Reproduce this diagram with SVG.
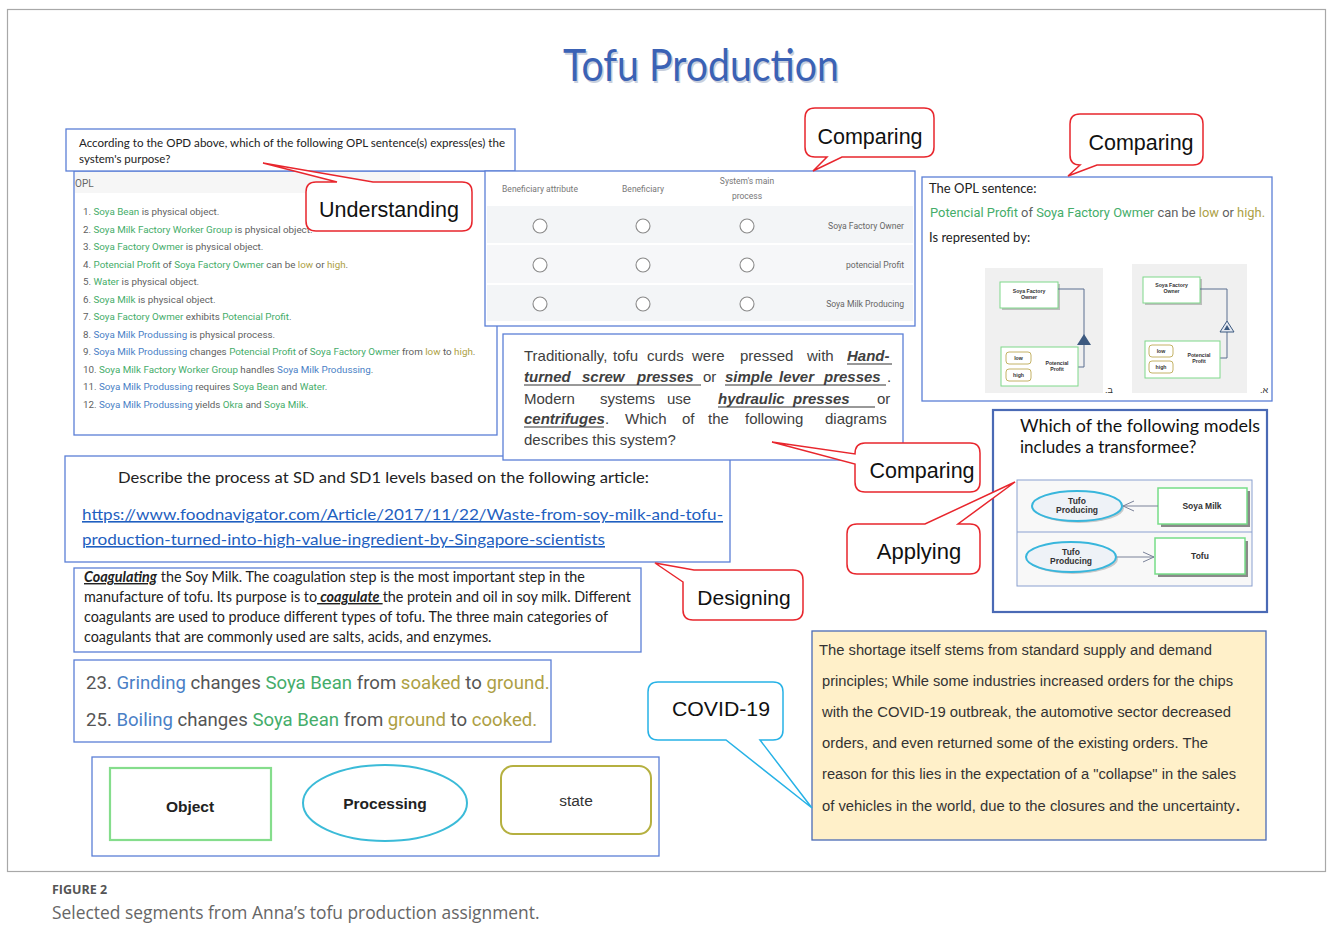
<svg xmlns="http://www.w3.org/2000/svg" width="1333" height="947" viewBox="0 0 1333 947">
<defs>
<style>
.box{fill:#fff;stroke:#5b7fd6;stroke-width:1.3}
.red{fill:#fff;stroke:#e8262d;stroke-width:1.5}
.cyan{fill:#fff;stroke:#27b2e6;stroke-width:1.5}
.ct{font-family:"Liberation Sans",Arial,sans-serif;fill:#111;text-anchor:middle}
.cal{font-family:Lato,"Liberation Sans",sans-serif}
.rob{font-family:Roboto,"Liberation Sans",sans-serif}
.lib{font-family:"Liberation Sans",Arial,sans-serif}
.t{fill:#5f5f5f}.g{fill:#45ad6a}.b{fill:#4a7fc6}.o{fill:#ad9f45}
.biu{font-weight:bold;font-style:italic}
.ul{stroke:#333;stroke-width:1}
.obj{fill:#fff;stroke:#7fd88a;stroke-width:1}
.st{fill:#fff;stroke:#b5a040;stroke-width:0.8}
.tiny{font-family:"Liberation Sans",Arial,sans-serif;font-weight:bold;font-size:5.2px;fill:#333;text-anchor:middle}
.circ{fill:#fff;stroke:#8a8a8a;stroke-width:1.1}
.th{font-family:Roboto,"Liberation Sans",sans-serif;font-size:8.5px;fill:#777;text-anchor:middle}
.tr{font-family:Roboto,"Liberation Sans",sans-serif;font-size:8.6px;fill:#666;text-anchor:end}
.ys{font-family:"Liberation Sans",Arial,sans-serif;font-size:14px;fill:#333}
.link{fill:#1f5fc0;text-decoration:underline}
</style>
<marker id="open" markerWidth="14" markerHeight="12" refX="12" refY="6" orient="auto" markerUnits="userSpaceOnUse">
<path d="M1,1 L12,6 L1,11" fill="none" stroke="#7a8299" stroke-width="1"/>
</marker>
</defs>
<rect width="1333" height="947" fill="#fff"/>
<rect x="7.5" y="9.5" width="1318" height="862" fill="none" stroke="#a8a8a8" stroke-width="1.2"/>

<g id="title">
<text x="702.5" y="82.5" text-anchor="middle" font-family="Lato,'Liberation Sans',sans-serif" font-size="45" fill="#c9cfdc" textLength="276" lengthAdjust="spacingAndGlyphs">Tofu Production</text>
<text x="701" y="81" text-anchor="middle" font-family="Lato,'Liberation Sans',sans-serif" font-size="45" fill="#3b62b5" textLength="276" lengthAdjust="spacingAndGlyphs">Tofu Production</text>
</g>

<g id="opl-list">
<rect class="box" x="74" y="171" width="423" height="264"/>
<rect x="75" y="172" width="345" height="21" fill="#f6f6f6"/>
<text x="75" y="187" class="rob" font-size="10" fill="#666">OPL</text>
<g class="rob t" font-size="9.8">
<text x="83" y="215">1. <tspan class="g">Soya Bean</tspan> is physical object.</text>
<text x="83" y="232.5">2. <tspan class="g">Soya Milk Factory Worker Group</tspan> is physical object.</text>
<text x="83" y="250">3. <tspan class="g">Soya Factory Owmer</tspan> is physical object.</text>
<text x="83" y="267.5">4. <tspan class="g">Potencial Profit</tspan> of <tspan class="g">Soya Factory Owmer</tspan> can be <tspan class="o">low</tspan> or <tspan class="o">high</tspan>.</text>
<text x="83" y="285">5. <tspan class="g">Water</tspan> is physical object.</text>
<text x="83" y="302.5">6. <tspan class="g">Soya Milk</tspan> is physical object.</text>
<text x="83" y="320">7. <tspan class="g">Soya Factory Owmer</tspan> exhibits <tspan class="g">Potencial Profit</tspan>.</text>
<text x="83" y="337.5">8. <tspan class="b">Soya Milk Produssing</tspan> is physical process.</text>
<text x="83" y="355">9. <tspan class="b">Soya Milk Produssing</tspan> changes <tspan class="g">Potencial Profit</tspan> of <tspan class="g">Soya Factory Owmer</tspan> from <tspan class="o">low</tspan> to <tspan class="o">high</tspan>.</text>
<text x="83" y="372.5">10. <tspan class="g">Soya Milk Factory Worker Group</tspan> handles <tspan class="b">Soya Milk Produssing</tspan>.</text>
<text x="83" y="390">11. <tspan class="b">Soya Milk Produssing</tspan> requires <tspan class="g">Soya Bean</tspan> and <tspan class="g">Water</tspan>.</text>
<text x="83" y="407.5">12. <tspan class="b">Soya Milk Produssing</tspan> yields <tspan class="g">Okra</tspan> and <tspan class="g">Soya Milk</tspan>.</text>
</g>
</g>

<g id="question">
<rect class="box" x="66" y="129" width="449" height="42"/>
<text x="79" y="147" class="cal" font-size="11.5" fill="#222" textLength="426" lengthAdjust="spacingAndGlyphs">According to the OPD above, which of the following OPL sentence(s) express(es) the</text>
<text x="79" y="163" class="cal" font-size="11.5" fill="#222">system's purpose?</text>
</g>

<g id="table">
<rect class="box" x="485" y="171" width="430" height="155"/>
<rect x="487" y="206" width="426" height="37" fill="#f3f5f7"/>
<rect x="487" y="245" width="426" height="38" fill="#f6f7f9"/>
<rect x="487" y="285" width="426" height="36" fill="#f3f5f7"/>
<text class="th" x="540" y="192">Beneficiary attribute</text>
<text class="th" x="643" y="192">Beneficiary</text>
<text class="th" x="747" y="184">System's main</text>
<text class="th" x="747" y="199">process</text>
<circle class="circ" cx="540" cy="226" r="7"/><circle class="circ" cx="643" cy="226" r="7"/><circle class="circ" cx="747" cy="226" r="7"/>
<circle class="circ" cx="540" cy="265" r="7"/><circle class="circ" cx="643" cy="265" r="7"/><circle class="circ" cx="747" cy="265" r="7"/>
<circle class="circ" cx="540" cy="304" r="7"/><circle class="circ" cx="643" cy="304" r="7"/><circle class="circ" cx="747" cy="304" r="7"/>
<text class="tr" x="904" y="229">Soya Factory Owner</text>
<text class="tr" x="904" y="268">potencial Profit</text>
<text class="tr" x="904" y="307">Soya Milk Producing</text>
</g>

<g id="opl-sentence">
<rect class="box" x="922" y="177" width="350" height="224"/>
<text x="929" y="193" class="cal" font-size="13" fill="#222">The OPL sentence:</text>
<text x="930" y="217" class="rob t" font-size="12.9"><tspan class="g">Potencial Profit</tspan> of <tspan class="g">Soya Factory Owmer</tspan> can be <tspan class="o">low</tspan> or <tspan class="o">high.</tspan></text>
<text x="929" y="242" class="cal" font-size="13" fill="#222">Is represented by:</text>
<g id="opd-b">
<rect x="985" y="268" width="118" height="125" fill="#f0f0f0"/>
<rect x="1002" y="284" width="58" height="26" fill="#bdbdbd"/>
<rect class="obj" x="1000" y="282" width="58" height="26"/>
<text class="tiny" x="1029" y="293">Soya Factory</text><text class="tiny" x="1029" y="299">Owner</text>
<polyline points="1058,289 1084,289 1084,367 1078,367" fill="none" stroke="#5a6f90" stroke-width="1"/>
<polygon points="1084,334 1077,345 1091,345" fill="#3d5a80"/>
<rect class="obj" x="1001" y="347" width="77" height="39"/>
<rect class="st" x="1006" y="352" width="25" height="12" rx="3"/><text class="tiny" x="1018.5" y="360" font-weight="normal">low</text>
<rect class="st" x="1006" y="369" width="25" height="12" rx="3"/><text class="tiny" x="1018.5" y="377" font-weight="normal">high</text>
<text class="tiny" x="1057" y="365">Potencial</text><text class="tiny" x="1057" y="371">Profit</text>
<text x="1105" y="393" class="lib" font-size="9" fill="#333">.ב</text>
</g>
<g id="opd-a">
<rect x="1132" y="264" width="115" height="129" fill="#f0f0f0"/>
<rect x="1145" y="279" width="57" height="26" fill="#bdbdbd"/>
<rect class="obj" x="1143" y="277" width="57" height="26"/>
<text class="tiny" x="1171.5" y="287">Soya Factory</text><text class="tiny" x="1171.5" y="293">Owner</text>
<polyline points="1200,289 1227,289 1227,321" fill="none" stroke="#5a6f90" stroke-width="1"/>
<polyline points="1227,332 1227,358 1220,358" fill="none" stroke="#5a6f90" stroke-width="1"/>
<polygon points="1227,321 1220,332 1234,332" fill="#e4e8f0" stroke="#3d5a80" stroke-width="1"/>
<polygon points="1227,325 1224,330 1230,330" fill="#3d5a80"/>
<rect class="obj" x="1145" y="341" width="75" height="37"/>
<rect class="st" x="1149" y="345" width="24" height="12" rx="3"/><text class="tiny" x="1161" y="353" font-weight="normal">low</text>
<rect class="st" x="1149" y="361" width="24" height="12" rx="3"/><text class="tiny" x="1161" y="369" font-weight="normal">high</text>
<text class="tiny" x="1199" y="357">Potencial</text><text class="tiny" x="1199" y="363">Profit</text>
<text x="1260" y="393" class="lib" font-size="9" fill="#333">.א</text>
</g>
</g>

<g id="describe">
<rect class="box" x="65" y="456" width="665" height="106"/>
<text x="118" y="483" class="cal" font-size="16" fill="#222" textLength="531" lengthAdjust="spacingAndGlyphs">Describe the process at SD and SD1 levels based on the following article:</text>
<text x="82" y="520" class="cal link" font-size="16" textLength="641" lengthAdjust="spacingAndGlyphs">https://www.foodnavigator.com/Article/2017/11/22/Waste-from-soy-milk-and-tofu-</text>
<text x="82" y="545" class="cal link" font-size="16" textLength="523" lengthAdjust="spacingAndGlyphs">production-turned-into-high-value-ingredient-by-Singapore-scientists</text>
</g>

<g id="tofu-curds">
<rect class="box" x="503" y="334" width="400" height="126"/>
<g class="lib" font-size="15" fill="#404040">
<text y="361"><tspan x="524">Traditionally,</tspan><tspan x="613">tofu</tspan><tspan x="647">curds</tspan><tspan x="692">were</tspan><tspan x="740">pressed</tspan><tspan x="807">with</tspan><tspan x="847" class="biu">Hand-</tspan></text>
<text y="382"><tspan x="524" class="biu">turned</tspan><tspan x="582" class="biu">screw</tspan><tspan x="637" class="biu">presses</tspan><tspan x="703">or</tspan><tspan x="725" class="biu">simple</tspan><tspan x="779" class="biu">lever</tspan><tspan x="824" class="biu">presses</tspan><tspan x="887">.</tspan></text>
<text y="404"><tspan x="524">Modern</tspan><tspan x="600">systems</tspan><tspan x="667">use</tspan><tspan x="718" class="biu">hydraulic</tspan><tspan x="793" class="biu">presses</tspan><tspan x="877">or</tspan></text>
<text y="424"><tspan x="524" class="biu">centrifuges</tspan><tspan x="605">.</tspan><tspan x="625">Which</tspan><tspan x="682">of</tspan><tspan x="708">the</tspan><tspan x="745">following</tspan><tspan x="825">diagrams</tspan></text>
<text y="445" x="524">describes this system?</text>
</g>
<line class="ul" x1="847" y1="364" x2="892" y2="364"/>
<line class="ul" x1="524" y1="385" x2="701" y2="385"/>
<line class="ul" x1="725" y1="385" x2="886" y2="385"/>
<line class="ul" x1="718" y1="407" x2="875" y2="407"/>
<line class="ul" x1="524" y1="427" x2="604" y2="427"/>
</g>

<g id="transformee">
<rect x="993" y="410" width="274" height="202" fill="#fff" stroke="#4a6ab5" stroke-width="2.2"/>
<text x="1020" y="432" class="cal" font-size="17" fill="#111" textLength="240" lengthAdjust="spacingAndGlyphs">Which of the following models</text>
<text x="1020" y="453" class="cal" font-size="17" fill="#111">includes a transformee?</text>
<rect x="1017" y="480" width="235" height="106" fill="#f8f8f8" stroke="#8aa0d0" stroke-width="1"/>
<line x1="1017" y1="532" x2="1252" y2="532" stroke="#8aa0d0" stroke-width="1"/>
<ellipse cx="1079" cy="508" rx="45" ry="15" fill="#9a9a9a" opacity="0.5"/>
<ellipse cx="1077" cy="506" rx="45" ry="15" fill="#eef2f7" stroke="#38b6dc" stroke-width="2"/>
<text class="lib" x="1077" y="504" font-size="8.5" font-weight="bold" fill="#333" text-anchor="middle">Tufo</text>
<text class="lib" x="1077" y="513" font-size="8.5" font-weight="bold" fill="#333" text-anchor="middle">Producing</text>
<rect x="1161" y="491" width="89" height="36" fill="#8a8a8a"/>
<rect x="1158" y="488" width="89" height="36" fill="#fff" stroke="#77dd88" stroke-width="1.5"/>
<text class="lib" x="1202" y="509" font-size="8.5" font-weight="bold" fill="#333" text-anchor="middle">Soya Milk</text>
<ellipse cx="1073" cy="559" rx="45" ry="15" fill="#9a9a9a" opacity="0.5"/>
<ellipse cx="1071" cy="557" rx="45" ry="15" fill="#eef2f7" stroke="#38b6dc" stroke-width="2"/>
<text class="lib" x="1071" y="555" font-size="8.5" font-weight="bold" fill="#333" text-anchor="middle">Tufo</text>
<text class="lib" x="1071" y="564" font-size="8.5" font-weight="bold" fill="#333" text-anchor="middle">Producing</text>
<rect x="1158" y="541" width="90" height="36" fill="#8a8a8a"/>
<rect x="1155" y="538" width="90" height="36" fill="#fff" stroke="#77dd88" stroke-width="1.5"/>
<text class="lib" x="1200" y="559" font-size="8.5" font-weight="bold" fill="#333" text-anchor="middle">Tofu</text>
</g>

<g id="connectors">
<line x1="1158" y1="506" x2="1123" y2="506" stroke="#7a8299" stroke-width="1" marker-end="url(#open)"/>
<line x1="1117" y1="557" x2="1154" y2="557" stroke="#7a8299" stroke-width="1" marker-end="url(#open)"/>
</g>

<g id="coagulating">
<rect class="box" x="74" y="568" width="567" height="84"/>
<g class="cal" font-size="14.35" fill="#222">
<text x="84" y="582"><tspan class="biu" text-decoration="underline">Coagulating</tspan> the Soy Milk. The coagulation step is the most important step in the</text>
<text x="84" y="602">manufacture of tofu. Its purpose is to<tspan class="biu" text-decoration="underline"> coagulate </tspan>the protein and oil in soy milk. Different</text>
<text x="84" y="622">coagulants are used to produce different types of tofu. The three main categories of</text>
<text x="84" y="642">coagulants that are commonly used are salts, acids, and enzymes.</text>
</g>
</g>

<g id="changes">
<rect class="box" x="74" y="660" width="477" height="82"/>
<g class="rob" font-size="18.6" fill="#555">
<text x="86" y="689">23. <tspan class="b">Grinding</tspan> changes <tspan class="g">Soya Bean</tspan> from <tspan class="o">soaked</tspan> to <tspan class="o">ground.</tspan></text>
<text x="86" y="726">25. <tspan class="b">Boiling</tspan> changes <tspan class="g">Soya Bean</tspan> from <tspan class="o">ground</tspan> to <tspan class="o">cooked.</tspan></text>
</g>
</g>

<g id="legend">
<rect class="box" x="92" y="757" width="567" height="99"/>
<rect x="110" y="768" width="161" height="72" fill="#fff" stroke="#85dd8c" stroke-width="2.2"/>
<text x="190" y="812" class="lib" font-size="15.5" font-weight="bold" fill="#222" text-anchor="middle">Object</text>
<ellipse cx="385" cy="803" rx="82" ry="38" fill="#fff" stroke="#3bbbd8" stroke-width="2"/>
<text x="385" y="809" class="lib" font-size="15.5" font-weight="bold" fill="#222" text-anchor="middle">Processing</text>
<rect x="501" y="766" width="150" height="68" rx="12" fill="#fff" stroke="#b5b040" stroke-width="2"/>
<text x="576" y="806" class="lib" font-size="15.5" fill="#333" text-anchor="middle">state</text>
</g>

<g id="shortage">
<rect x="812" y="631" width="454" height="209" fill="#fff0c9" stroke="#4a6ab5" stroke-width="1.3"/>
<text class="ys" x="819" y="655" textLength="393" lengthAdjust="spacingAndGlyphs">The shortage itself stems from standard supply and demand</text>
<text class="ys" x="822" y="686" textLength="411" lengthAdjust="spacingAndGlyphs">principles; While some industries increased orders for the chips</text>
<text class="ys" x="822" y="717" textLength="409" lengthAdjust="spacingAndGlyphs">with the COVID-19 outbreak, the automotive sector decreased</text>
<text class="ys" x="822" y="748" textLength="386" lengthAdjust="spacingAndGlyphs">orders, and even returned some of the existing orders. The</text>
<text class="ys" x="822" y="779" textLength="414" lengthAdjust="spacingAndGlyphs">reason for this lies in the expectation of a "collapse" in the sales</text>
<text class="ys" x="822" y="811" textLength="413" lengthAdjust="spacingAndGlyphs">of vehicles in the world, due to the closures and the uncertainty</text>
<text class="ys" x="1236" y="811" font-weight="bold">.</text>
</g>

<g id="callout-understanding">
<path class="red" d="M316,182 L337,182 L263,163 L373,182 L462,182 Q472,182 472,192 L472,221 Q472,231 462,231 L316,231 Q306,231 306,221 L306,192 Q306,182 316,182 Z"/>
<text class="ct" x="389" y="217" font-size="21.5">Understanding</text>
</g>
<g id="callout-comparing-1">
<path class="red" d="M815,108 L924,108 Q934,108 934,118 L934,147 Q934,157 924,157 L842,157 L813,171 L827,157 L815,157 Q805,157 805,147 L805,118 Q805,108 815,108 Z"/>
<text class="ct" x="870" y="144" font-size="21.5">Comparing</text>
</g>
<g id="callout-comparing-2">
<path class="red" d="M1080,114 L1193,114 Q1203,114 1203,124 L1203,155 Q1203,165 1193,165 L1097,165 L1068,176 L1080,165 Q1070,165 1070,155 L1070,124 Q1070,114 1080,114 Z"/>
<text class="ct" x="1141" y="150" font-size="21.5">Comparing</text>
</g>
<g id="callout-comparing-3">
<path class="red" d="M865,443 L970,443 Q980,443 980,453 L980,482 Q980,492 970,492 L865,492 Q855,492 855,482 L855,464 L772,442 L855,454 Q855,443 865,443 Z"/>
<text class="ct" x="922" y="478" font-size="21.5">Comparing</text>
</g>
<g id="callout-applying">
<path class="red" d="M857,524 L925,524 L1015,482 L958,524 L970,524 Q980,524 980,534 L980,564 Q980,574 970,574 L857,574 Q847,574 847,564 L847,534 Q847,524 857,524 Z"/>
<text class="ct" x="919" y="559" font-size="22">Applying</text>
</g>
<g id="callout-designing">
<path class="red" d="M683,582 L655,563 L694,570 L793,570 Q803,570 803,580 L803,610 Q803,620 793,620 L693,620 Q683,620 683,610 Z"/>
<text class="ct" x="744" y="605" font-size="21">Designing</text>
</g>
<g id="callout-covid">
<path class="cyan" d="M658,682 L773,682 Q783,682 783,692 L783,730 Q783,740 773,740 L760,740 L812,808 L726,740 L658,740 Q648,740 648,730 L648,692 Q648,682 658,682 Z"/>
<text class="ct" x="721" y="716" font-size="21" textLength="98" lengthAdjust="spacingAndGlyphs">COVID-19</text>
</g>

<g id="caption">
<text x="52" y="894" font-family="'Open Sans','Liberation Sans',sans-serif" font-size="12.5" font-weight="bold" fill="#555">FIGURE 2</text>
<text x="52" y="919" font-family="'Open Sans','Liberation Sans',sans-serif" font-size="17.4" fill="#666">Selected segments from Anna’s tofu production assignment.</text>
</g>
</svg>
